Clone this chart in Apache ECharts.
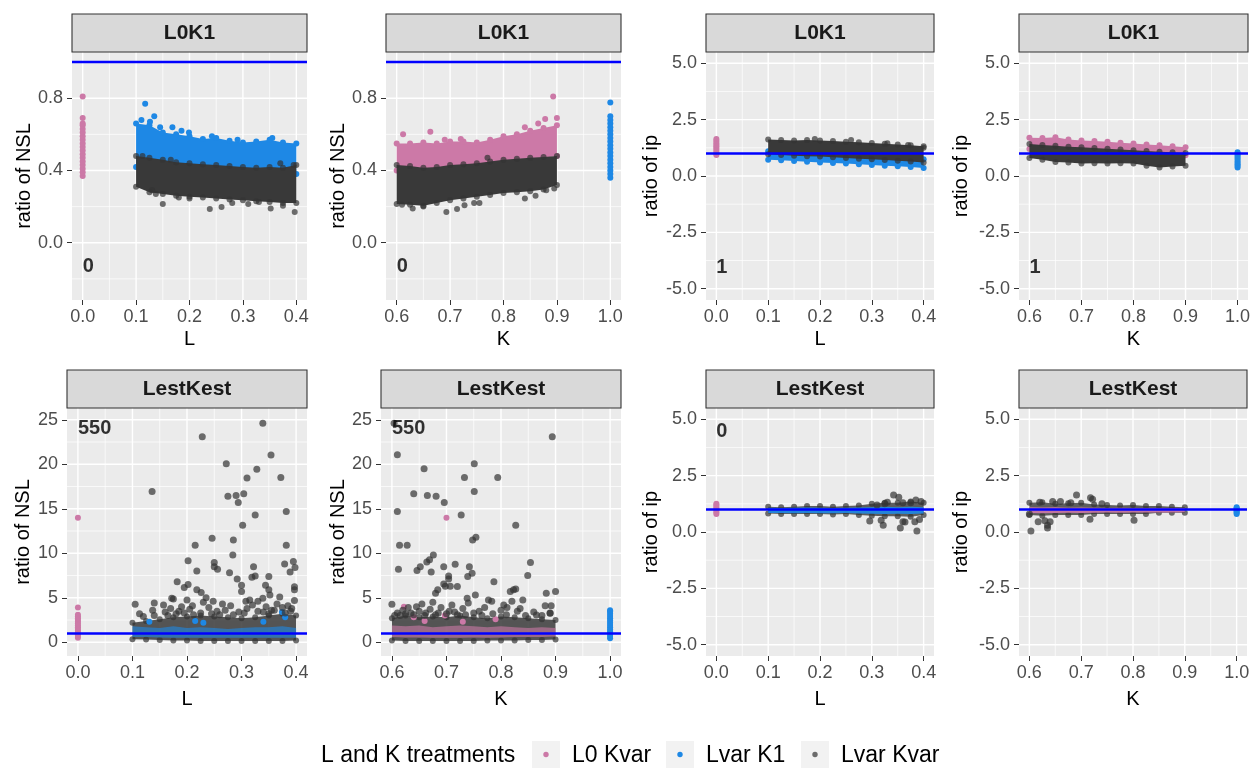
<!DOCTYPE html>
<html>
<head>
<meta charset="utf-8">
<title>ratio of NSL / ratio of ip</title>
<script src="https://cdn.jsdelivr.net/npm/echarts@6/dist/echarts.min.js"></script>
<style>
  html, body { margin: 0; padding: 0; background: #ffffff; }
  #main { width: 1257px; height: 782px; }
</style>
</head>
<body>
<div id="main"></div>
<script>
var lGrid = [0.1, 0.125, 0.15, 0.175, 0.2, 0.225, 0.25, 0.275, 0.3, 0.325, 0.35, 0.375, 0.4];
var kGrid = [0.6, 0.625, 0.65, 0.675, 0.7, 0.725, 0.75, 0.775, 0.8, 0.825, 0.85, 0.875, 0.9];

// tick labels
var lTicks = [0, 0.1, 0.2, 0.3, 0.4];
var kTicks = [0.6, 0.7, 0.8, 0.9, 1.0];
var nslTicksTop = [0, 0.4, 0.8];
var nslTicksBottom = [0, 5, 10, 15, 20, 25];
var ipTicks = [-5, -2.5, 0, 2.5, 5];

var stripLabels = ['L0K1', 'L0K1', 'L0K1', 'L0K1', 'LestKest', 'LestKest', 'LestKest', 'LestKest'];
var countLabels = ['0', '0', '1', '1', '550', '550', '0', ''];
var legendTitle = 'L and K treatments';
var legendNames = ['L0 Kvar', 'Lvar K1', 'Lvar Kvar'];

// ---- panel 1 : L0K1, ratio of NSL vs L
var p1PinkY = [0.37, 0.39, 0.41, 0.43, 0.45, 0.47, 0.49, 0.51, 0.53, 0.55, 0.57, 0.59, 0.61, 0.63, 0.65, 0.66, 0.69, 0.81];
var p1BlueHi = [0.66, 0.65, 0.61, 0.6, 0.59, 0.575, 0.58, 0.565, 0.555, 0.56, 0.57, 0.555, 0.55];
var p1BlueLo = [0.42, 0.41, 0.40, 0.39, 0.39, 0.38, 0.38, 0.38, 0.37, 0.37, 0.37, 0.37, 0.38];
var p1BlueExtra = [[0.117, 0.77], [0.134, 0.70], [0.168, 0.64], [0.11, 0.68], [0.126, 0.67], [0.199, 0.61], [0.242, 0.59], [0.355, 0.58], [0.145, 0.64], [0.185, 0.62], [0.29, 0.57], [0.39, 0.40]];
var p1GreyHi = [0.48, 0.47, 0.46, 0.445, 0.44, 0.435, 0.43, 0.425, 0.42, 0.415, 0.42, 0.415, 0.43];
var p1GreyLo = [0.31, 0.28, 0.27, 0.26, 0.255, 0.25, 0.245, 0.24, 0.235, 0.23, 0.225, 0.22, 0.22];
var p1GreyExtra = [[0.137, 0.27], [0.15, 0.215], [0.238, 0.187], [0.26, 0.198], [0.352, 0.19], [0.397, 0.17], [0.375, 0.205], [0.31, 0.215], [0.28, 0.22], [0.13, 0.29], [0.18, 0.25], [0.395, 0.43], [0.37, 0.44], [0.112, 0.48], [0.33, 0.225], [0.2, 0.245], [0.165, 0.46]];

// ---- panel 2 : L0K1, ratio of NSL vs K
var p2PinkHi = [0.55, 0.55, 0.555, 0.55, 0.56, 0.56, 0.555, 0.57, 0.59, 0.6, 0.62, 0.635, 0.65];
var p2PinkLo = [0.4, 0.4, 0.4, 0.4, 0.41, 0.41, 0.42, 0.43, 0.44, 0.45, 0.46, 0.47, 0.48];
var p2PinkExtra = [[0.612, 0.6], [0.663, 0.615], [0.893, 0.81], [0.9, 0.69], [0.878, 0.685], [0.865, 0.66], [0.84, 0.64], [0.72, 0.575], [0.69, 0.57]];
var p2GreyHi = [0.43, 0.425, 0.415, 0.42, 0.43, 0.435, 0.44, 0.45, 0.46, 0.465, 0.47, 0.475, 0.48];
var p2GreyLo = [0.215, 0.21, 0.205, 0.22, 0.235, 0.245, 0.255, 0.265, 0.275, 0.28, 0.285, 0.295, 0.32];
var p2GreyExtra = [[0.693, 0.17], [0.713, 0.187], [0.727, 0.207], [0.745, 0.22], [0.755, 0.22], [0.84, 0.245], [0.63, 0.19], [0.61, 0.21], [0.86, 0.26], [0.88, 0.29], [0.77, 0.47], [0.65, 0.2], [0.895, 0.3]];
var p2BlueY = [0.36, 0.38, 0.40, 0.42, 0.44, 0.46, 0.48, 0.50, 0.52, 0.54, 0.56, 0.58, 0.60, 0.62, 0.64, 0.66, 0.68, 0.70, 0.776];

// ---- panel 3 : L0K1, ratio of ip vs L
var p3PinkY = [0.93, 1.0, 1.08, 1.16, 1.24, 1.32, 1.4, 1.48, 1.56, 1.64];
var p3BlueHi = [1.1, 1.05, 1.02, 1.0, 0.97, 0.95, 0.92, 0.9, 0.86, 0.82, 0.8, 0.77, 0.74];
var p3BlueLo = [0.72, 0.7, 0.67, 0.63, 0.6, 0.58, 0.55, 0.52, 0.49, 0.46, 0.43, 0.4, 0.36];
var p3GreyHi = [1.62, 1.6, 1.58, 1.6, 1.57, 1.55, 1.52, 1.5, 1.46, 1.43, 1.4, 1.36, 1.32];
var p3GreyLo = [0.96, 0.93, 0.9, 0.88, 0.86, 0.83, 0.8, 0.77, 0.74, 0.71, 0.68, 0.64, 0.6];
var p3GreyExtra = [[0.26, 1.6], [0.4, 1.25], [0.19, 1.64], [0.37, 1.38], [0.33, 1.45]];

// ---- panel 4 : L0K1, ratio of ip vs K
var p4PinkHi = [1.7, 1.68, 1.72, 1.62, 1.58, 1.55, 1.52, 1.48, 1.44, 1.4, 1.36, 1.32, 1.27];
var p4PinkLo = [1.2, 1.18, 1.15, 1.12, 1.1, 1.08, 1.05, 1.02, 1.0, 0.98, 0.96, 0.94, 0.92];
var p4GreyHi = [1.42, 1.38, 1.34, 1.3, 1.27, 1.24, 1.21, 1.17, 1.14, 1.11, 1.08, 1.05, 1.02];
var p4GreyLo = [0.8, 0.72, 0.62, 0.6, 0.55, 0.56, 0.55, 0.56, 0.55, 0.45, 0.38, 0.42, 0.45];
var p4BlueY = [0.38, 0.45, 0.52, 0.6, 0.68, 0.76, 0.84, 0.92, 1.0, 1.05];

// ---- panel 5 : LestKest, ratio of NSL vs L
var p5PinkY = [0.5, 0.7, 0.9, 1.1, 1.3, 1.5, 1.7, 1.9, 2.1, 2.3, 2.5, 2.7, 2.9, 3.1, 3.9, 14.0];
var p5GreyHi = [2.2, 2.4, 2.6, 2.8, 2.9, 3.0, 2.9, 2.8, 2.7, 2.8, 3.0, 3.2, 3.0];
var p5GreyLo = [0.35, 0.3, 0.25, 0.2, 0.2, 0.15, 0.15, 0.15, 0.15, 0.15, 0.15, 0.15, 0.2];
var p5BlueHi = [1.8, 1.7, 1.6, 1.8, 1.6, 1.7, 1.6, 1.5, 1.6, 1.7, 1.7, 1.8, 1.6];
var p5BlueLo = [0.6, 0.6, 0.55, 0.5, 0.5, 0.5, 0.5, 0.5, 0.5, 0.5, 0.5, 0.5, 0.5];
var p5BlueExtra = [[0.131, 2.3], [0.374, 3.4], [0.215, 2.4], [0.23, 2.2], [0.38, 2.8], [0.34, 2.3]];
var p5GreyExtra = [[0.105, 4.27], [0.113, 3.2], [0.12, 2.9], [0.136, 16.94], [0.14, 4.4], [0.137, 3.6], [0.157, 4.2], [0.172, 4.95], [0.175, 4.85],
  [0.182, 6.8], [0.195, 6.15], [0.202, 9.15], [0.202, 6.5], [0.2, 4.75], [0.215, 10.9], [0.218, 8.0], [0.218, 5.9], [0.226, 5.6], [0.228, 23.1],
  [0.235, 5.0], [0.246, 11.7], [0.25, 8.95], [0.25, 8.5], [0.256, 8.2], [0.248, 4.6], [0.278, 7.8], [0.272, 20.05], [0.275, 16.4], [0.285, 11.5],
  [0.284, 9.8], [0.29, 16.5], [0.294, 15.7], [0.292, 7.1], [0.3, 6.4], [0.3, 5.7], [0.302, 13.15], [0.304, 16.7], [0.31, 18.45], [0.308, 4.6],
  [0.315, 4.75], [0.328, 19.45], [0.325, 14.3], [0.322, 8.5], [0.325, 7.45], [0.319, 7.3], [0.339, 4.95], [0.339, 24.6], [0.344, 6.4], [0.35, 5.9],
  [0.35, 7.4], [0.354, 21.05], [0.352, 5.3], [0.372, 18.5], [0.382, 14.7], [0.382, 10.9], [0.379, 8.8], [0.389, 7.9], [0.395, 9.07], [0.398, 8.4],
  [0.397, 6.25], [0.397, 5.9], [0.397, 4.7], [0.37, 5.1],
  [0.16, 3.4], [0.17, 3.8], [0.185, 3.5], [0.19, 4.0], [0.205, 3.7], [0.21, 4.1], [0.225, 3.3], [0.24, 3.9], [0.255, 3.5], [0.265, 4.3],
  [0.27, 3.6], [0.28, 4.1], [0.295, 3.4], [0.31, 3.8], [0.32, 4.2], [0.33, 3.5], [0.345, 4.0], [0.36, 3.6], [0.365, 4.3], [0.375, 3.9],
  [0.385, 4.1], [0.39, 3.5], [0.26, 3.1], [0.14, 3.0], [0.23, 4.5], [0.33, 4.6], [0.35, 3.2],
  [0.165, 3.0], [0.18, 3.2], [0.195, 3.3], [0.212, 3.1], [0.245, 3.2], [0.285, 3.1], [0.305, 3.3], [0.34, 3.4], [0.355, 3.6], [0.38, 3.3], [0.392, 3.8]];

// ---- panel 6 : LestKest, ratio of NSL vs K
var p6PinkHi = [1.9, 1.8, 1.9, 1.7, 1.8, 1.9, 1.8, 1.7, 1.8, 1.7, 1.6, 1.7, 1.6];
var p6PinkLo = [0.6, 0.55, 0.55, 0.5, 0.5, 0.5, 0.55, 0.5, 0.55, 0.6, 0.6, 0.6, 0.65];
var p6PinkExtra = [[0.622, 4.0], [0.7, 14.0], [0.697, 3.0], [0.64, 2.8], [0.79, 2.6], [0.73, 2.3], [0.66, 2.4]];
var p6GreyHi = [2.7, 3.0, 2.8, 2.9, 2.8, 3.0, 2.8, 2.7, 2.9, 2.8, 2.7, 2.6, 2.5];
var p6GreyLo = [0.2, 0.15, 0.15, 0.15, 0.15, 0.15, 0.15, 0.2, 0.2, 0.2, 0.25, 0.25, 0.3];
var p6GreyExtra = [[0.604, 24.6], [0.61, 21.07], [0.61, 14.7], [0.614, 10.9], [0.628, 10.9], [0.612, 8.2], [0.6, 4.27], [0.659, 19.5], [0.64, 16.7],
  [0.665, 16.5], [0.681, 16.4], [0.696, 15.7], [0.646, 8.06], [0.652, 8.5], [0.664, 9.03], [0.669, 9.26], [0.676, 9.8], [0.672, 7.9], [0.695, 8.5],
  [0.704, 7.46], [0.704, 7.1], [0.684, 5.9], [0.68, 5.5], [0.695, 6.56], [0.698, 6.3], [0.707, 6.3], [0.72, 6.26], [0.716, 8.77], [0.727, 14.3],
  [0.733, 18.5], [0.751, 20.05], [0.751, 16.94], [0.754, 11.8], [0.748, 11.5], [0.742, 8.5], [0.747, 7.76], [0.739, 7.38], [0.738, 4.95],
  [0.753, 5.3], [0.794, 18.5], [0.787, 6.8], [0.827, 13.15], [0.817, 5.7], [0.823, 5.9], [0.827, 6.0], [0.82, 4.6], [0.84, 4.75], [0.849, 7.5],
  [0.854, 8.95], [0.894, 23.1], [0.883, 5.5], [0.9, 5.7], [0.881, 4.1], [0.892, 4.1], [0.89, 3.26], [0.865, 3.07], [0.805, 4.2], [0.811, 3.9],
  [0.835, 3.8], [0.777, 4.75], [0.783, 4.6],
  [0.61, 3.3], [0.615, 3.0], [0.62, 3.6], [0.63, 3.9], [0.635, 3.3], [0.645, 4.0], [0.65, 3.5], [0.655, 4.3], [0.66, 3.0], [0.67, 3.7],
  [0.675, 4.5], [0.685, 3.3], [0.69, 3.9], [0.705, 3.5], [0.71, 4.2], [0.72, 3.1], [0.73, 3.8], [0.74, 4.4], [0.76, 3.5], [0.77, 3.9],
  [0.785, 3.2], [0.8, 3.6], [0.81, 3.1], [0.83, 3.5], [0.845, 3.0], [0.86, 3.4], [0.875, 3.0], [0.89, 3.3],
  [0.605, 3.0], [0.625, 3.2], [0.64, 3.1], [0.662, 3.3], [0.68, 3.1], [0.7, 3.2], [0.715, 3.4], [0.735, 3.1], [0.75, 3.3], [0.765, 3.0]];
var p6BlueY = [0.45, 0.7, 0.95, 1.2, 1.45, 1.7, 1.95, 2.2, 2.45, 2.7, 2.95, 3.2, 3.45, 3.6];

// ---- panel 7 : LestKest, ratio of ip vs L
var p7PinkY = [0.8, 0.88, 0.96, 1.04, 1.12, 1.2, 1.25];
var p7GreyHi = [1.12, 1.1, 1.12, 1.15, 1.15, 1.12, 1.15, 1.18, 1.25, 1.3, 1.3, 1.35, 1.3];
var p7GreyLo = [0.82, 0.8, 0.8, 0.8, 0.8, 0.78, 0.8, 0.75, 0.72, 0.7, 0.7, 0.68, 0.75];
var p7BlueHi = [1.08, 1.07, 1.08, 1.09, 1.08, 1.07, 1.08, 1.09, 1.1, 1.12, 1.1, 1.12, 1.1];
var p7BlueLo = [0.84, 0.84, 0.83, 0.84, 0.83, 0.83, 0.84, 0.82, 0.81, 0.8, 0.81, 0.8, 0.82];
var p7GreyExtra = [[0.296, 0.49], [0.318, 0.52], [0.322, 0.3], [0.342, 1.64], [0.352, 1.54], [0.355, 0.18], [0.36, 0.45], [0.364, 0.44],
  [0.383, 0.46], [0.387, 0.045], [0.392, 0.55], [0.385, 1.42], [0.375, 1.3], [0.33, 1.32], [0.325, 1.25], [0.31, 1.2], [0.395, 1.35], [0.36, 1.3]];

// ---- panel 8 : LestKest, ratio of ip vs K
var p8GreyHi = [1.3, 1.32, 1.25, 1.28, 1.3, 1.22, 1.2, 1.18, 1.2, 1.15, 1.15, 1.12, 1.1];
var p8GreyLo = [0.75, 0.72, 0.75, 0.75, 0.75, 0.8, 0.8, 0.8, 0.8, 0.8, 0.85, 0.85, 0.85];
var p8PinkHi = [1.1, 1.09, 1.1, 1.08, 1.09, 1.08, 1.07, 1.08, 1.07, 1.07, 1.06, 1.07, 1.06];
var p8PinkLo = [0.84, 0.83, 0.84, 0.85, 0.84, 0.85, 0.86, 0.85, 0.86, 0.86, 0.87, 0.86, 0.88];
var p8GreyExtra = [[0.603, 0.045], [0.617, 0.45], [0.63, 0.5], [0.635, 0.3], [0.635, 0.18], [0.64, 0.46], [0.691, 1.64], [0.718, 1.52],
  [0.722, 1.45], [0.717, 0.57], [0.802, 0.52], [0.68, 1.3], [0.66, 1.35], [0.62, 1.32], [0.645, 1.35], [0.74, 1.25], [0.6, 0.8]];
var p8BlueY = [0.8, 0.85, 0.9, 0.95, 1.0, 1.05, 1.1];

// ------------------------------------------------------------------
var FONT = '"Liberation Sans", Arial, sans-serif';
var colors = { pink: '#CC79A7', blue: '#1E88E5', grey: '#333333' };
var pointAlpha = { pink: 1, blue: 1, grey: 0.7 };

var xScales = {
  L: { min: -0.02, max: 0.42, ticks: lTicks, minor: [0.05, 0.15, 0.25, 0.35], digits: 1, title: 'L' },
  K: { min: 0.58, max: 1.02, ticks: kTicks, minor: [0.65, 0.75, 0.85, 0.95], digits: 1, title: 'K' }
};
var yScales = {
  nslTop: { min: -0.317, max: 1.056, ticks: nslTicksTop, minor: [-0.2, 0.2, 0.6, 1.0], digits: 1, title: 'ratio of NSL' },
  nslBottom: { min: -1.54, max: 26.32, ticks: nslTicksBottom, minor: [2.5, 7.5, 12.5, 17.5, 22.5], digits: 0, title: 'ratio of NSL' },
  ip: { min: -5.5, max: 5.5, ticks: ipTicks, minor: [-3.75, -1.25, 1.25, 3.75], digits: 1, title: 'ratio of ip' }
};

function col(x, ys) { return ys.map(function (y) { return [x, y]; }); }

var panels = [
  { box: [72, 52, 235, 248], x: 'L', y: 'nslTop', yTitleX: 24, xTitleY: 339, note: [0, -0.13],
    layers: [
      { pts: col(0, p1PinkY), c: 'pink' },
      { band: [lGrid, p1BlueHi, p1BlueLo], c: 'blue' },
      { pts: p1BlueExtra, c: 'blue' },
      { band: [lGrid, p1GreyHi, p1GreyLo], c: 'grey' },
      { pts: p1GreyExtra, c: 'grey' }
    ] },
  { box: [386, 52, 235, 248], x: 'K', y: 'nslTop', yTitleX: 338, xTitleY: 339, note: [0.6, -0.13],
    layers: [
      { band: [kGrid, p2PinkHi, p2PinkLo], c: 'pink' },
      { pts: p2PinkExtra, c: 'pink' },
      { pts: col(1.0, p2BlueY), c: 'blue' },
      { band: [kGrid, p2GreyHi, p2GreyLo], c: 'grey' },
      { pts: p2GreyExtra, c: 'grey' }
    ] },
  { box: [706, 52, 228, 248], x: 'L', y: 'ip', yTitleX: 651, xTitleY: 339, note: [0, -4.06],
    layers: [
      { pts: col(0, p3PinkY), c: 'pink' },
      { band: [lGrid, p3BlueHi, p3BlueLo], c: 'blue' },
      { band: [lGrid, p3GreyHi, p3GreyLo], c: 'grey' },
      { pts: p3GreyExtra, c: 'grey' }
    ] },
  { box: [1019, 52, 229, 248], x: 'K', y: 'ip', yTitleX: 961, xTitleY: 339, note: [0.6, -4.06],
    layers: [
      { band: [kGrid, p4PinkHi, p4PinkLo], c: 'pink' },
      { pts: col(1.0, p4BlueY), c: 'blue' },
      { band: [kGrid, p4GreyHi, p4GreyLo], c: 'grey' }
    ] },
  { box: [67, 408, 240, 248], x: 'L', y: 'nslBottom', yTitleX: 23, xTitleY: 699, note: [0, 24.07], big: true,
    layers: [
      { pts: col(0, p5PinkY), c: 'pink' },
      { band: [lGrid, p5GreyHi, p5GreyLo], c: 'grey', fill: 0.85 },
      { band: [lGrid, p5BlueHi, p5BlueLo], c: 'blue', fill: 0.6, dots: false },
      { pts: p5BlueExtra, c: 'blue' },
      { pts: p5GreyExtra, c: 'grey' }
    ] },
  { box: [381, 408, 240, 248], x: 'K', y: 'nslBottom', yTitleX: 338, xTitleY: 699, note: [0.6, 24.07], big: true,
    layers: [
      { band: [kGrid, p6GreyHi, p6GreyLo], c: 'grey', fill: 0.85 },
      { band: [kGrid, p6PinkHi, p6PinkLo], c: 'pink', fill: 0.6, dots: false },
      { pts: p6PinkExtra, c: 'pink' },
      { pts: col(1.0, p6BlueY), c: 'blue' },
      { pts: p6GreyExtra, c: 'grey' }
    ] },
  { box: [706, 408, 228, 248], x: 'L', y: 'ip', yTitleX: 651, xTitleY: 699, note: [0, 4.48], big: true,
    layers: [
      { pts: col(0, p7PinkY), c: 'pink' },
      { band: [lGrid, p7GreyHi, p7GreyLo], c: 'grey', fill: 0.8 },
      { band: [lGrid, p7BlueHi, p7BlueLo], c: 'blue', fill: 0.9, dots: false },
      { pts: p7GreyExtra, c: 'grey' }
    ] },
  { box: [1019, 408, 228, 248], x: 'K', y: 'ip', yTitleX: 961, xTitleY: 699, note: null, big: true,
    layers: [
      { band: [kGrid, p8GreyHi, p8GreyLo], c: 'grey', fill: 0.8 },
      { band: [kGrid, p8PinkHi, p8PinkLo], c: 'pink', fill: 0.9, dots: false },
      { pts: col(1.0, p8BlueY), c: 'blue' },
      { pts: p8GreyExtra, c: 'grey' }
    ] }
];

function axisOption(s, i, isX) {
  return {
    type: 'value', gridIndex: i, min: s.min, max: s.max,
    axisLine: { show: false, onZero: false },
    axisTick: { show: true, length: 5, customValues: s.ticks, lineStyle: { color: '#333333', width: 1 } },
    axisLabel: {
      customValues: s.ticks, margin: isX ? 8 : 9, color: '#4D4D4D', fontSize: 18, fontFamily: FONT,
      formatter: function (v) { return Number(v).toFixed(s.digits); }
    },
    splitLine: { show: false }
  };
}

// white panel grid lines as broken line series ('-' splits the segments)
function gridData(xs, ys, xv, yv) {
  var out = [];
  xv.forEach(function (v) { out.push([v, ys.min], [v, ys.max], ['-', '-']); });
  yv.forEach(function (v) { out.push([xs.min, v], [xs.max, v], ['-', '-']); });
  return out;
}

function bandShape(xsArr, hi, lo, color, opacity) {
  return function (params, api) {
    var pts = [];
    for (var k = 0; k < xsArr.length; k++) pts.push(api.coord([xsArr[k], hi[k]]));
    for (var j = xsArr.length - 1; j >= 0; j--) pts.push(api.coord([xsArr[j], lo[j]]));
    return { type: 'polygon', shape: { points: pts }, style: { fill: color, opacity: opacity } };
  };
}

var grids = [], xAxes = [], yAxes = [], series = [], graphics = [];

panels.forEach(function (p, i) {
  var xs = xScales[p.x], ys = yScales[p.y];
  var left = p.box[0], top = p.box[1], w = p.box[2], h = p.box[3];
  var dot = p.big ? 7 : 6;

  grids.push({ left: left, top: top, width: w, height: h, show: true, backgroundColor: '#EBEBEB', borderWidth: 0 });
  xAxes.push(axisOption(xs, i, true));
  yAxes.push(axisOption(ys, i, false));

  series.push({ type: 'line', xAxisIndex: i, yAxisIndex: i, z: 1, silent: true, showSymbol: false, connectNulls: false,
    lineStyle: { color: '#FFFFFF', width: 0.7 }, data: gridData(xs, ys, xs.minor, ys.minor) });
  series.push({ type: 'line', xAxisIndex: i, yAxisIndex: i, z: 1, silent: true, showSymbol: false, connectNulls: false,
    lineStyle: { color: '#FFFFFF', width: 1.4 }, data: gridData(xs, ys, xs.ticks, ys.ticks) });

  p.layers.forEach(function (layer, k) {
    var c = colors[layer.c];
    if (layer.band) {
      var bx = layer.band[0], hi = layer.band[1], lo = layer.band[2];
      var fillColor = layer.c === 'grey' ? '#393939' : c;
      series.push({ type: 'custom', xAxisIndex: i, yAxisIndex: i, z: 2 + k, silent: true,
        data: [[bx[0], lo[0]]], renderItem: bandShape(bx, hi, lo, fillColor, layer.fill || 1) });
      if (layer.dots !== false) {
        series.push({ type: 'scatter', xAxisIndex: i, yAxisIndex: i, z: 2 + k, silent: true,
          symbolSize: 6, itemStyle: { color: c, opacity: pointAlpha[layer.c] },
          data: bx.map(function (x, n) { return [x, hi[n]]; }).concat(bx.map(function (x, n) { return [x, lo[n]]; })) });
      }
    } else {
      series.push({ type: 'scatter', xAxisIndex: i, yAxisIndex: i, z: 2 + k, silent: true,
        symbolSize: layer.c === 'grey' ? dot : 6, itemStyle: { color: c, opacity: pointAlpha[layer.c] }, data: layer.pts });
    }
  });

  // reference line at 1
  series.push({ type: 'line', xAxisIndex: i, yAxisIndex: i, z: 20, silent: true, showSymbol: false,
    lineStyle: { color: '#0000FF', width: 2.5 }, data: [[xs.min, 1], [xs.max, 1]] });

  if (p.note) {
    series.push({ type: 'scatter', xAxisIndex: i, yAxisIndex: i, z: 21, silent: true, symbolSize: 0,
      label: { show: true, position: 'right', distance: 0, formatter: countLabels[i], color: '#000000',
        fontSize: 20, fontWeight: 'bold', fontFamily: FONT },
      data: [p.note] });
  }

  // facet strip
  graphics.push({ type: 'rect', shape: { x: left, y: top - 38, width: w, height: 38 },
    style: { fill: '#D9D9D9', stroke: '#333333', lineWidth: 1.1 }, z: 5 });
  graphics.push({ type: 'text', x: left + w / 2, y: top - 19, z: 6,
    style: { text: stripLabels[i], fill: '#1A1A1A', font: 'bold 21px ' + FONT, align: 'center', verticalAlign: 'middle', textAlign: 'center', textVerticalAlign: 'middle' } });
  // axis titles
  graphics.push({ type: 'text', x: left + w / 2, y: p.xTitleY, z: 6,
    style: { text: xs.title, fill: '#000000', font: '20px ' + FONT, align: 'center', verticalAlign: 'middle', textAlign: 'center', textVerticalAlign: 'middle' } });
  graphics.push({ type: 'text', x: p.yTitleX, y: top + h / 2, rotation: Math.PI / 2, z: 6,
    style: { text: ys.title, fill: '#000000', font: '20px ' + FONT, align: 'center', verticalAlign: 'middle', textAlign: 'center', textVerticalAlign: 'middle' } });
});

// legend at the bottom
graphics.push({ type: 'text', x: 321, y: 756, z: 6,
  style: { text: legendTitle, fill: '#000000', font: '23px ' + FONT, align: 'left', verticalAlign: 'middle', textAlign: 'left', textVerticalAlign: 'middle' } });
var keyX = [532, 666, 801], keyKinds = ['pink', 'blue', 'grey'];
keyX.forEach(function (kx, n) {
  graphics.push({ type: 'rect', shape: { x: kx, y: 741, width: 28, height: 27 }, style: { fill: '#F2F2F2' }, z: 5 });
  graphics.push({ type: 'circle', shape: { cx: kx + 14, cy: 754.5, r: 2.7 },
    style: { fill: colors[keyKinds[n]], opacity: pointAlpha[keyKinds[n]] }, z: 6 });
  graphics.push({ type: 'text', x: kx + 40, y: 756, z: 6,
    style: { text: legendNames[n], fill: '#000000', font: '23px ' + FONT, align: 'left', verticalAlign: 'middle', textAlign: 'left', textVerticalAlign: 'middle' } });
});

var chart = echarts.init(document.getElementById('main'), null, { renderer: 'canvas' });
chart.setOption({
  animation: false,
  backgroundColor: '#FFFFFF',
  grid: grids,
  xAxis: xAxes,
  yAxis: yAxes,
  series: series,
  graphic: { elements: graphics }
});
</script>
</body>
</html>
